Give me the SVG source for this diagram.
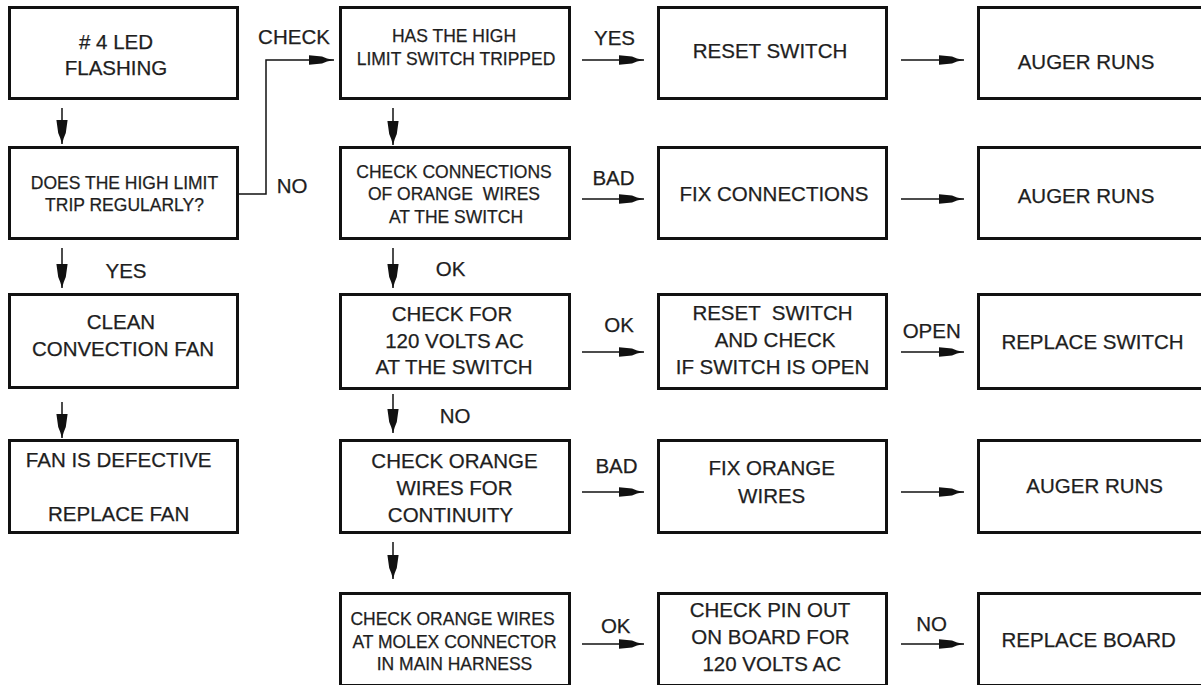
<svg xmlns="http://www.w3.org/2000/svg" width="1201" height="685" viewBox="0 0 1201 685">
<style>
.box{fill:#fff;stroke:#111;stroke-width:3}
.t{font-family:"Liberation Sans",Arial,sans-serif;font-size:20.5px;fill:#1e1e1e;stroke:#1e1e1e;stroke-width:0.25;text-anchor:middle}
.s{font-size:17.5px}
.c{fill:none;stroke:#111;stroke-width:1.5}
.h{marker-end:url(#ah)}
.v{marker-end:url(#av)}
</style>
<defs>
<marker id="ah" markerUnits="userSpaceOnUse" orient="auto" refX="0" refY="0" markerWidth="30" markerHeight="12" viewBox="-27 -6 30 12" overflow="visible">
<path d="M0,0 L-7,-1.6 L-12,-3.4 L-25,-4.8 L-25,4.8 L-12,3.4 L-7,1.6 Z" fill="#111"/>
</marker>
<marker id="av" markerUnits="userSpaceOnUse" orient="auto" refX="0" refY="0" markerWidth="30" markerHeight="14" viewBox="-27 -7 30 14" overflow="visible">
<path d="M0,0 L-6,-1.8 L-11,-3.8 L-24,-5.6 L-24,5.6 L-11,3.8 L-6,1.8 Z" fill="#111"/>
</marker>
</defs>
<rect width="1201" height="685" fill="#fff"/>

<g id="connectors">
<path class="c v" d="M62,108 V144"/>
<path class="c v" d="M62,248 V288"/>
<path class="c v" d="M62,402 V438"/>
<path class="c h" d="M239,194 H266 V60 H334"/>
<path class="c v" d="M393,108 V145"/>
<path class="c v" d="M393,248 V288"/>
<path class="c v" d="M393,394 V433"/>
<path class="c v" d="M393,542 V579"/>
<path class="c h" d="M582,60 H644"/>
<path class="c h" d="M582,199 H644"/>
<path class="c h" d="M582,352 H644"/>
<path class="c h" d="M582,492 H644"/>
<path class="c h" d="M582,644 H644"/>
<path class="c h" d="M901,60 H964"/>
<path class="c h" d="M901,199 H964"/>
<path class="c h" d="M901,352 H964"/>
<path class="c h" d="M901,492 H964"/>
<path class="c h" d="M901,644 H964"/>
<text class="t" x="294" y="44">CHECK</text>
<text class="t" x="292" y="193">NO</text>
<text class="t" x="126" y="278">YES</text>
<text class="t" x="614.5" y="45">YES</text>
<text class="t" x="613.5" y="185">BAD</text>
<text class="t" x="450.5" y="276">OK</text>
<text class="t" x="619" y="332">OK</text>
<text class="t" x="931.7" y="338">OPEN</text>
<text class="t" x="455" y="423">NO</text>
<text class="t" x="616.5" y="473">BAD</text>
<text class="t" x="615.7" y="633">OK</text>
<text class="t" x="931.7" y="631">NO</text>
</g>

<g id="n-led">
<rect class="box" x="9.5" y="7.5" width="228" height="91"/>
<text class="t" x="116" y="49"># 4 LED</text>
<text class="t" x="116" y="75">FLASHING</text>
</g>
<g id="n-trip-regularly">
<rect class="box" x="9.5" y="147.5" width="228" height="91"/>
<text class="t s" x="124.5" y="189">DOES THE HIGH LIMIT</text>
<text class="t s" x="124.5" y="211">TRIP REGULARLY?</text>
</g>
<g id="n-clean-fan">
<rect class="box" x="9.5" y="294.5" width="228" height="93"/>
<text class="t" x="121" y="329">CLEAN</text>
<text class="t" x="123" y="356">CONVECTION FAN</text>
</g>
<g id="n-fan-defective">
<rect class="box" x="9.5" y="440.5" width="228" height="92"/>
<text class="t" x="118.7" y="467">FAN IS DEFECTIVE</text>
<text class="t" x="118.7" y="521">REPLACE FAN</text>
</g>

<g id="n-has-tripped">
<rect class="box" x="340.5" y="7.5" width="229" height="91"/>
<text class="t s" x="454" y="42">HAS THE HIGH</text>
<text class="t s" x="456" y="65">LIMIT SWITCH TRIPPED</text>
</g>
<g id="n-check-connections">
<rect class="box" x="340.5" y="147.5" width="229" height="91"/>
<text class="t s" x="454" y="178">CHECK CONNECTIONS</text>
<text class="t s" x="454" y="200" xml:space="preserve">OF ORANGE  WIRES</text>
<text class="t s" x="456" y="223">AT THE SWITCH</text>
</g>
<g id="n-check-120">
<rect class="box" x="340.5" y="294.5" width="229" height="94"/>
<text class="t" x="452" y="321">CHECK FOR</text>
<text class="t" x="454.5" y="348">120 VOLTS AC</text>
<text class="t" x="454" y="374">AT THE SWITCH</text>
</g>
<g id="n-continuity">
<rect class="box" x="340.5" y="440.5" width="229" height="92"/>
<text class="t" x="454.5" y="468">CHECK ORANGE</text>
<text class="t" x="454.5" y="495">WIRES FOR</text>
<text class="t" x="450.5" y="521.5">CONTINUITY</text>
</g>
<g id="n-molex">
<rect class="box" x="340.5" y="593.5" width="229" height="92"/>
<text class="t s" x="452.5" y="625">CHECK ORANGE WIRES</text>
<text class="t s" x="454.5" y="648">AT MOLEX CONNECTOR</text>
<text class="t s" x="454.5" y="670">IN MAIN HARNESS</text>
</g>

<g id="n-reset">
<rect class="box" x="658.5" y="7.5" width="228" height="91"/>
<text class="t" x="770" y="58">RESET SWITCH</text>
</g>
<g id="n-fix-connections">
<rect class="box" x="658.5" y="147.5" width="228" height="91"/>
<text class="t" x="774" y="201">FIX CONNECTIONS</text>
</g>
<g id="n-reset-check">
<rect class="box" x="658.5" y="294.5" width="228" height="94"/>
<text class="t" x="772.5" y="320" xml:space="preserve">RESET  SWITCH</text>
<text class="t" x="775" y="347">AND CHECK</text>
<text class="t" x="772.5" y="374">IF SWITCH IS OPEN</text>
</g>
<g id="n-fix-orange">
<rect class="box" x="658.5" y="440.5" width="228" height="92"/>
<text class="t" x="771.7" y="475">FIX ORANGE</text>
<text class="t" x="771.7" y="502.5">WIRES</text>
</g>
<g id="n-pin-out">
<rect class="box" x="658.5" y="593.5" width="228" height="92"/>
<text class="t" x="770" y="617">CHECK PIN OUT</text>
<text class="t" x="770.5" y="644">ON BOARD FOR</text>
<text class="t" x="771.7" y="670.5">120 VOLTS AC</text>
</g>

<g id="n-auger-1">
<rect class="box" x="978.5" y="7.5" width="260" height="91"/>
<text class="t" x="1086" y="69">AUGER RUNS</text>
</g>
<g id="n-auger-2">
<rect class="box" x="978.5" y="147.5" width="260" height="91"/>
<text class="t" x="1086" y="202.5">AUGER RUNS</text>
</g>
<g id="n-replace-switch">
<rect class="box" x="978.5" y="294.5" width="260" height="94"/>
<text class="t" x="1092.5" y="349">REPLACE SWITCH</text>
</g>
<g id="n-auger-3">
<rect class="box" x="978.5" y="440.5" width="260" height="92"/>
<text class="t" x="1094.7" y="492.5">AUGER RUNS</text>
</g>
<g id="n-replace-board">
<rect class="box" x="978.5" y="593.5" width="260" height="92"/>
<text class="t" x="1088.7" y="646.5">REPLACE BOARD</text>
</g>
</svg>
